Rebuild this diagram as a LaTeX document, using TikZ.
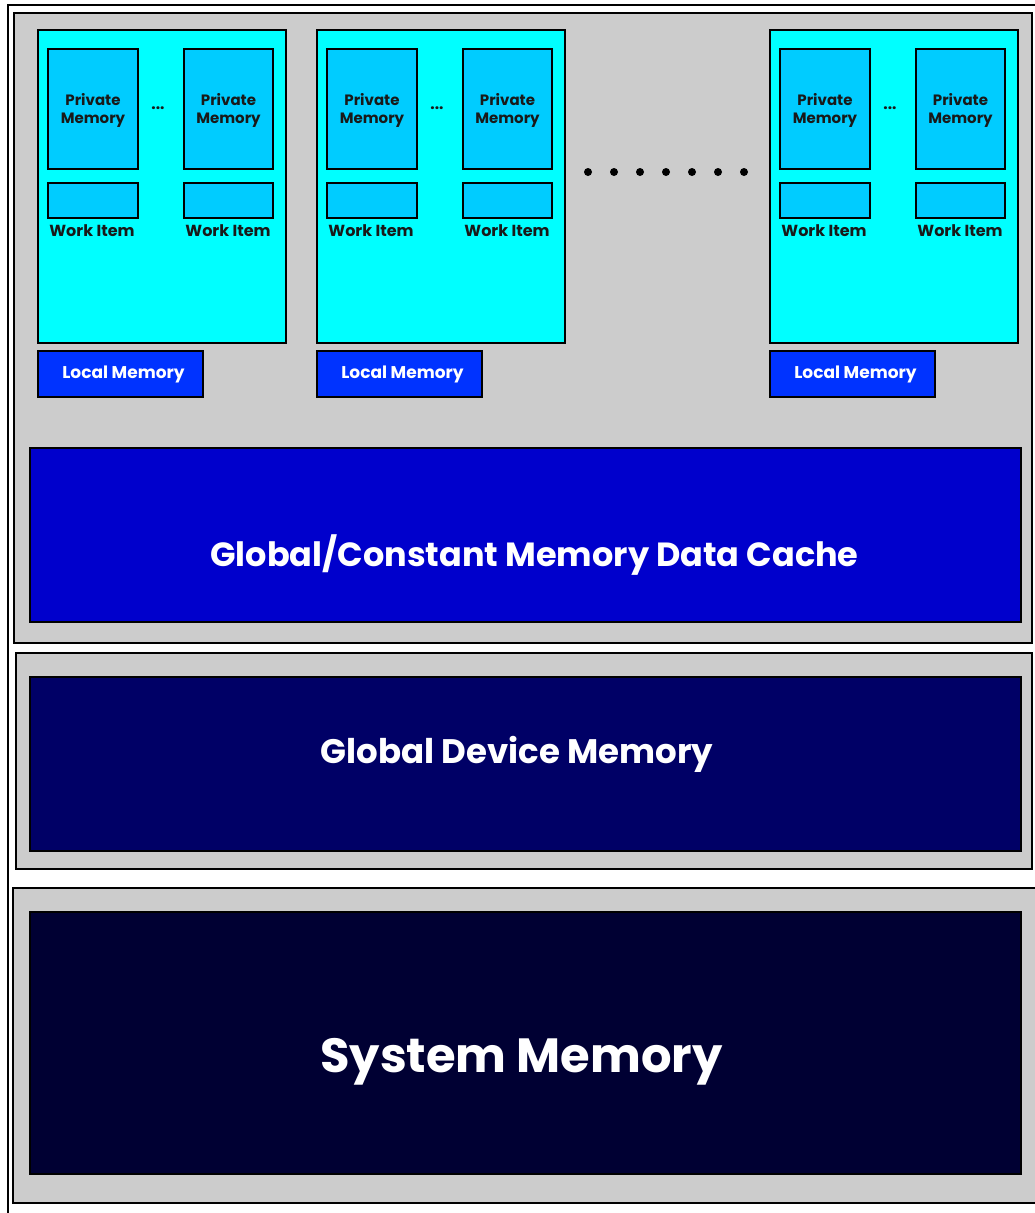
\documentclass[tikz,border=0pt]{standalone}
\usepackage{fontspec}
\setmainfont{Poppins}
\definecolor{pgray}{HTML}{CCCCCC}
\definecolor{wgcyan}{HTML}{00FFFF}
\definecolor{pmblue}{HTML}{00CCFF}
\definecolor{lmblue}{HTML}{0033FF}
\definecolor{cacheblue}{HTML}{0000CC}
\definecolor{devblue}{HTML}{000066}
\definecolor{sysblue}{HTML}{000033}
\begin{document}
\begin{tikzpicture}[x=1pt,y=-1pt,
  boxstyle/.style={draw=black, line width=2.5pt, inner sep=0pt, outer sep=0pt, anchor=north west},
  panel/.style={boxstyle, fill=pgray},
  wgbox/.style={boxstyle, fill=wgcyan},
  pmbox/.style={boxstyle, fill=pmblue},
  lmbox/.style={boxstyle, fill=lmblue},
  bigbox/.style={boxstyle},
  bigtext/.style={text=white, inner sep=0pt, font=\bfseries\fontsize{34}{40}\selectfont},
  smalllabel/.style={inner sep=0pt, font=\bfseries\fontsize{15.5}{18}\selectfont, text=black!90},
]
\useasboundingbox (0,0) rectangle (1034,1213);
\fill[white] (0,0) rectangle (1034,1213);
% outer frame
\draw[line width=2.5pt] (8,1216) -- (8,5) -- (1036,5);
% panels
\node[panel, minimum width=1018, minimum height=630] (p1) at (14,13) {};
\node[panel, minimum width=1016, minimum height=216] (p2) at (16,653) {};
\node[panel, minimum width=1030, minimum height=315] (p3) at (13,888) {};
% big boxes
\node[bigbox, fill=cacheblue, minimum width=991, minimum height=174] (cache) at (30,448) {};
\node[bigtext, font=\bfseries\fontsize{33.5}{40}\selectfont] (cachetxt) at ([xshift=9pt,yshift=-20pt]cache.center) {Global/Constant Memory Data Cache};
\node[bigbox, fill=devblue, minimum width=991, minimum height=174] (dev) at (30,677) {};
\node[bigtext] (devtxt) at ([xshift=-8.5pt,yshift=10pt]dev.center) {Global Device Memory};
\node[bigbox, fill=sysblue, minimum width=991, minimum height=262] (sys) at (30,912) {};
\node[bigtext, font=\bfseries\fontsize{48}{56}\selectfont] (systxt) at ([xshift=-4pt,yshift=-19pt]sys.center) {System Memory};
% work groups
\foreach \i/\gx in {1/0, 2/279, 3/732}{
  \node[wgbox, minimum width=248, minimum height=313] (wg\i) at (38+\gx,30) {};
  \node[pmbox, minimum width=90, minimum height=120] (pma\i) at (48+\gx,49) {};
  \node[pmbox, minimum width=89, minimum height=120] (pmb\i) at (184+\gx,49) {};
  \node[smalllabel, font=\bfseries\fontsize{15}{18}\selectfont, align=center] (pmat\i) at (93+\gx,110) {Private\\Memory};
  \node[smalllabel, font=\bfseries\fontsize{15}{18}\selectfont, align=center] (pmbt\i) at (228.5+\gx,110) {Private\\Memory};
  \node[smalllabel] (dd\i) at (158+\gx,108) {...};
  \node[pmbox, minimum width=90, minimum height=35] (wia\i) at (48+\gx,183) {};
  \node[pmbox, minimum width=89, minimum height=35] (wib\i) at (184+\gx,183) {};
  \node[smalllabel, font=\bfseries\fontsize{16}{18}\selectfont] (wiat\i) at (92+\gx,231) {Work Item};
  \node[smalllabel, font=\bfseries\fontsize{16}{18}\selectfont] (wibt\i) at (228+\gx,231) {Work Item};
  \node[lmbox, minimum width=165, minimum height=46] (lm\i) at (38+\gx,351) {};
  \node[text=white, inner sep=0pt, font=\bfseries\fontsize{17}{18}\selectfont] (lmt\i) at ([xshift=3pt]lm\i.center) {Local Memory};
}
% dots
\foreach \k in {0,...,6}{
  \fill (588+26*\k,172) circle (4);
}
\end{tikzpicture}
\end{document}
